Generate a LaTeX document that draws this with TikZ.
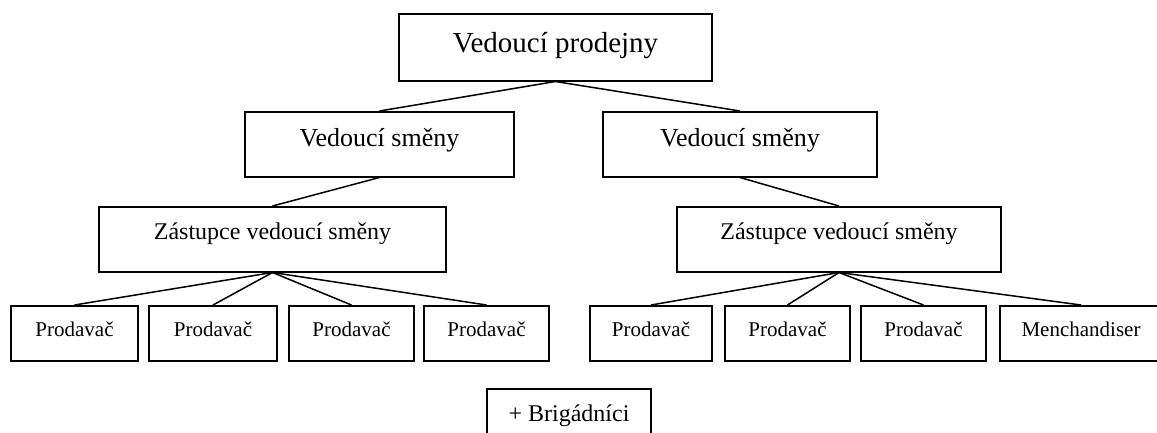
\documentclass[tikz,border=0pt]{standalone}
\usepackage{fontspec}
\setmainfont{Liberation Serif}
\begin{document}
\begin{tikzpicture}[x=1pt,y=-1pt,
  box/.style={draw=black,line width=1.5pt,inner xsep=0pt,inner ysep=0pt,anchor=north,fill=white},
  top/.style={box,font=\fontsize{29}{29}\selectfont,text height=39pt,text depth=28pt},
  vs/.style={box,font=\fontsize{26}{26}\selectfont,text height=35pt,text depth=30pt},
  zs/.style={box,font=\fontsize{24}{24}\selectfont,text height=33pt,text depth=32pt},
  pr/.style={box,font=\fontsize{21}{21}\selectfont,text height=31pt,text depth=24pt},
  br/.style={box,font=\fontsize{24}{24}\selectfont,text height=33pt,text depth=30pt},
  link/.style={line width=1.5pt,draw=black}]
\useasboundingbox (0,0) rectangle (1157,432);
\clip (0,0) rectangle (1157,432);
\node[top,minimum width=313pt] (vp) at (555.5,13) {Vedoucí prodejny};
\node[vs,minimum width=269pt] (lvs) at (379.5,111) {Vedoucí směny};
\node[vs,minimum width=274pt] (rvs) at (740,111) {Vedoucí směny};
\node[zs,minimum width=347pt] (lz) at (272.5,206) {Zástupce vedoucí směny};
\node[zs,minimum width=324pt] (rz) at (839,206) {Zástupce vedoucí směny};
\node[pr,minimum width=127pt] (p1) at (74.5,305) {Prodavač};
\node[pr,minimum width=128pt] (p2) at (213,305) {Prodavač};
\node[pr,minimum width=125pt] (p3) at (351.5,305) {Prodavač};
\node[pr,minimum width=125pt] (p4) at (486.5,305) {Prodavač};
\node[pr,minimum width=122pt] (p5) at (651,305) {Prodavač};
\node[pr,minimum width=125pt] (p6) at (787.5,305) {Prodavač};
\node[pr,minimum width=125pt] (p7) at (923.5,305) {Prodavač};
\node[pr,minimum width=162pt] (m) at (1081,305) {Menchandiser};
\node[br,minimum width=164pt] (br) at (569,388) {+ Brigádníci};
\draw[link] (vp.south) -- (lvs.north);
\draw[link] (vp.south) -- (rvs.north);
\draw[link] (lvs.south) -- (lz.north);
\draw[link] (rvs.south) -- (rz.north);
\foreach \p in {p1,p2,p3,p4} \draw[link] (lz.south) -- (\p.north);
\foreach \p in {p5,p6,p7,m} \draw[link] (rz.south) -- (\p.north);
\end{tikzpicture}
\end{document}
